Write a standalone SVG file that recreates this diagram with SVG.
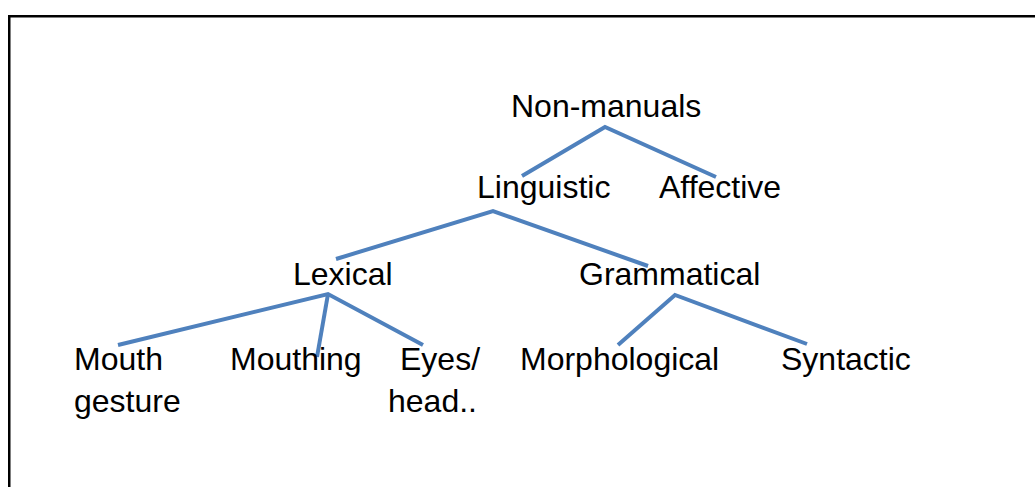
<svg xmlns="http://www.w3.org/2000/svg" width="1035" height="487" viewBox="0 0 1035 487">
  <style>
    .frame { fill: none; stroke: #000; stroke-width: 2.5; }
    .label { font-family: "Liberation Sans", Arial, Helvetica, sans-serif; font-size: 32px; fill: #000; }
    .edge { fill: none; stroke: #4F81BD; stroke-width: 4; stroke-linejoin: miter; stroke-linecap: butt; }
  </style>
  <rect width="1035" height="487" fill="#fff"/>
  <!-- outer frame: top and left edges -->
  <path class="frame" d="M9.25,487 V16.25 H1035"/>

  <!-- branches of the tree -->
  <g id="connectors">
    <polyline class="edge" points="522,176 605,127 716,177"/>
    <polyline class="edge" points="336,259 493,211 648,266"/>
    <polyline class="edge" points="118,345 328,294 423,345"/>
    <line class="edge" x1="328" y1="294" x2="317" y2="357"/>
    <polyline class="edge" points="618,345 675,295 807,344"/>
  </g>

  <g id="non-manuals"><text class="label" x="511" y="117">Non-manuals</text></g>
  <g id="linguistic"><text class="label" x="477" y="198">Linguistic</text></g>
  <g id="affective"><text class="label" x="659" y="198">Affective</text></g>
  <g id="lexical"><text class="label" x="293" y="285">Lexical</text></g>
  <g id="grammatical"><text class="label" x="579" y="285">Grammatical</text></g>
  <g id="mouth-gesture">
    <text class="label" x="74" y="370">Mouth</text>
    <text class="label" x="74" y="412">gesture</text>
  </g>
  <g id="mouthing"><text class="label" x="230" y="370">Mouthing</text></g>
  <g id="eyes-head">
    <text class="label" x="400" y="370">Eyes/</text>
    <text class="label" x="388" y="412">head..</text>
  </g>
  <g id="morphological"><text class="label" x="520" y="370">Morphological</text></g>
  <g id="syntactic"><text class="label" x="781" y="370">Syntactic</text></g>
</svg>
